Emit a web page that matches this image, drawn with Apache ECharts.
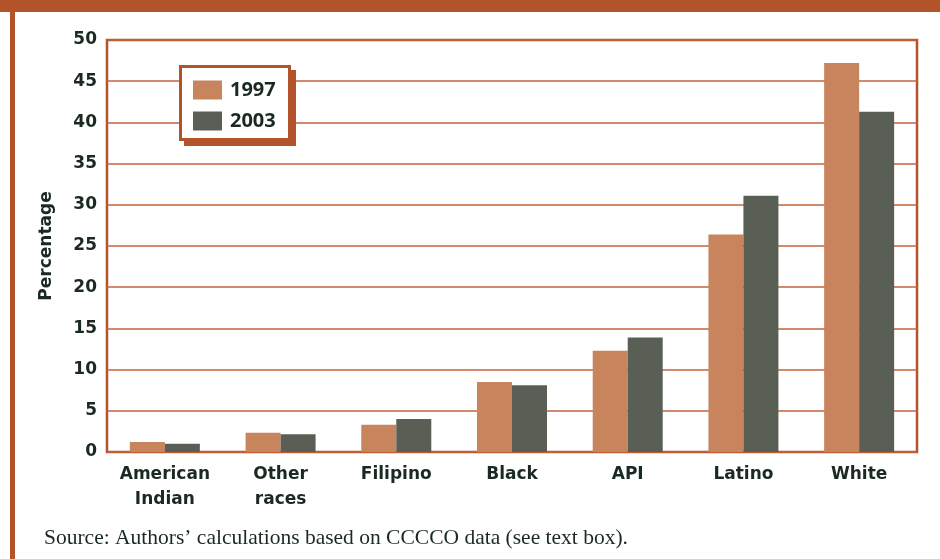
<!DOCTYPE html>
<html>
<head>
<meta charset="utf-8">
<script src="https://cdn.jsdelivr.net/npm/echarts@6/dist/echarts.min.js"></script>
<style>
  html, body { margin: 0; padding: 0; background: #fff; }
  #chart { width: 940px; height: 559px; }
</style>
</head>
<body>
<div id="chart"></div>
<script>
const categories = ['American\nIndian', 'Other\nraces', 'Filipino', 'Black', 'API', 'Latino', 'White'];
const values1997 = [1.2, 2.35, 3.3, 8.5, 12.3, 26.4, 47.2];
const values2003 = [1.0, 2.15, 4.0, 8.1, 13.9, 31.1, 41.3];
const yTicks = { min: 0, max: 50, interval: 5 };

const brown = '#b3532a';
const ink = '#1b2a21';
const sans = '"DejaVu Sans"';

const chart = echarts.init(document.getElementById('chart'), null, { renderer: 'canvas' });

chart.setOption({
    backgroundColor: '#fff',
    animation: false,
    textStyle: { fontFamily: sans },
    graphic: [
        { type: 'rect', left: 0, top: 0, shape: { width: 940, height: 12 }, style: { fill: brown } },
        { type: 'rect', left: 10, top: 12, shape: { width: 5, height: 547 }, style: { fill: brown } },
        // legend box with its offset shadow
        { type: 'rect', z: 3, shape: { x: 184, y: 70, width: 112, height: 76 }, style: { fill: brown } },
        { type: 'rect', z: 3, shape: { x: 180.5, y: 66.5, width: 109, height: 73 }, style: { fill: '#fff', stroke: brown, lineWidth: 3 } },
        {
            type: 'text', left: 44, top: 527,
            style: {
                text: 'Source: Authors\u2019 calculations based on CCCCO data (see text box).',
                font: '21.5px "Liberation Serif"', fill: ink
            }
        }
    ],
    grid: {
        left: 107, right: 23, top: 40, bottom: 107,
        show: true, borderColor: brown, borderWidth: 2.5, backgroundColor: 'transparent'
    },
    legend: {
        orient: 'vertical',
        left: 193, top: 80,
        padding: 0,
        icon: 'rect',
        itemWidth: 29, itemHeight: 19, itemGap: 11,
        textStyle: { fontFamily: 'Open Sans', fontWeight: 'bold', fontSize: 20, color: ink, padding: [0, 0, 0, 3] },
        data: ['1997', '2003']
    },
    xAxis: {
        type: 'category',
        data: categories,
        axisLine: { show: false },
        axisTick: { show: false },
        axisLabel: {
            interval: 0, margin: 10, fontSize: 17, fontWeight: 'bold', color: ink, lineHeight: 25
        }
    },
    yAxis: {
        type: 'value',
        min: yTicks.min, max: yTicks.max, interval: yTicks.interval,
        name: 'Percentage',
        nameLocation: 'middle',
        nameGap: 52,
        nameTextStyle: { fontSize: 17, fontWeight: 'bold', color: ink },
        axisLine: { show: false },
        axisTick: { show: false },
        axisLabel: { margin: 10, fontSize: 17, fontWeight: 'bold', color: ink },
        splitLine: { lineStyle: { color: '#c4633b', width: 1.6 } }
    },
    series: [
        {
            name: '1997', type: 'bar', data: values1997,
            barWidth: 35, barGap: '0%',
            itemStyle: { color: '#c8845c' }
        },
        {
            name: '2003', type: 'bar', data: values2003,
            barWidth: 35, barGap: '0%',
            itemStyle: { color: '#5a5f55' }
        }
    ]
});
</script>
</body>
</html>
